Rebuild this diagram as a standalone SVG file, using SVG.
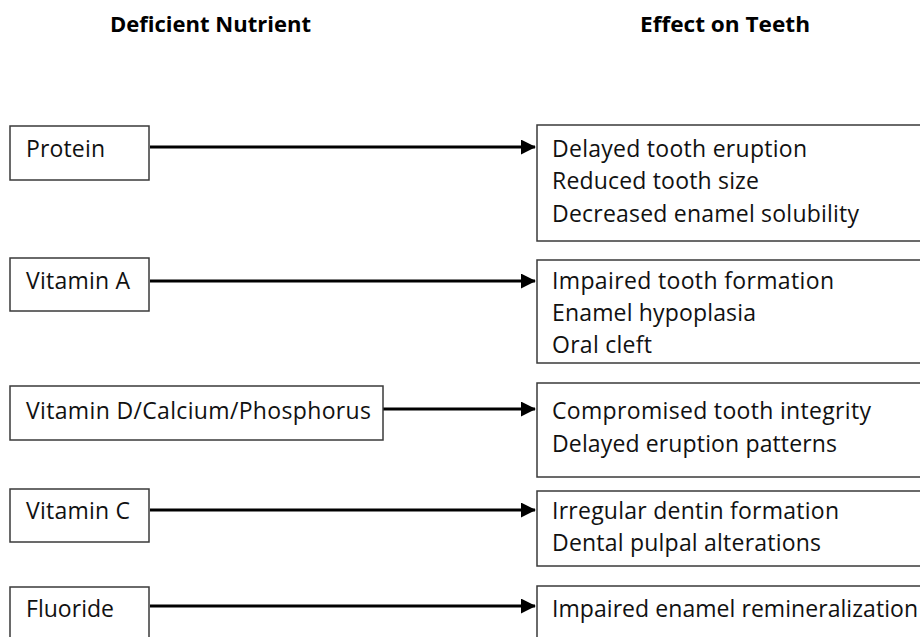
<svg xmlns="http://www.w3.org/2000/svg" width="920" height="637" viewBox="0 0 920 637">
<defs>
<style>
.bg{fill:#ffffff}
.box{fill:#ffffff;stroke:#3a3a3a;stroke-width:1.5}
.t{font-family:"Open Sans","Liberation Sans",sans-serif;font-size:23px;fill:#111111}
.h{font-family:"Open Sans","Liberation Sans",sans-serif;font-size:22px;font-weight:bold;fill:#000000}
.arr{stroke:#000000;stroke-width:3;fill:none;marker-end:url(#ah)}
</style>
<marker id="ah" markerWidth="5" markerHeight="5" refX="4.7" refY="2.5" orient="auto" markerUnits="strokeWidth">
<path d="M0,0 L5,2.5 L0,5 z" fill="#000000"/>
</marker>
</defs>
<rect class="bg" x="0" y="0" width="920" height="637"/>
<g id="headers">
<text class="h" x="110" y="32" textLength="201" lengthAdjust="spacingAndGlyphs">Deficient Nutrient</text>
<text class="h" x="640" y="32" textLength="170" lengthAdjust="spacingAndGlyphs">Effect on Teeth</text>
</g>
<g id="connectors">
<line class="arr" x1="150" y1="147" x2="535" y2="147"/>
<line class="arr" x1="150" y1="281" x2="535" y2="281"/>
<line class="arr" x1="383" y1="409" x2="535" y2="409"/>
<line class="arr" x1="150" y1="510" x2="535" y2="510"/>
<line class="arr" x1="150" y1="606" x2="535" y2="606"/>
</g>
<g id="n-protein">
<rect class="box" x="10" y="126" width="139" height="54"/>
<text class="t" x="26" y="157" textLength="79">Protein</text>
</g>
<g id="n-vita">
<rect class="box" x="10" y="258" width="139" height="53"/>
<text class="t" x="26" y="289" textLength="104">Vitamin A</text>
</g>
<g id="n-vitd">
<rect class="box" x="10" y="386" width="373" height="54"/>
<text class="t" x="26" y="419" textLength="345">Vitamin D/Calcium/Phosphorus</text>
</g>
<g id="n-vitc">
<rect class="box" x="10" y="489" width="139" height="53"/>
<text class="t" x="26" y="519" textLength="104">Vitamin C</text>
</g>
<g id="n-fluoride">
<rect class="box" x="10" y="587" width="139" height="60"/>
<text class="t" x="26" y="617" textLength="88">Fluoride</text>
</g>
<g id="e-protein">
<rect class="box" x="537" y="125" width="400" height="116"/>
<text class="t" x="552" y="157" textLength="255">Delayed tooth eruption</text>
<text class="t" x="552" y="189" textLength="207">Reduced tooth size</text>
<text class="t" x="552" y="222" textLength="307">Decreased enamel solubility</text>
</g>
<g id="e-vita">
<rect class="box" x="537" y="260" width="400" height="103"/>
<text class="t" x="552" y="289" textLength="282">Impaired tooth formation</text>
<text class="t" x="552" y="321" textLength="204">Enamel hypoplasia</text>
<text class="t" x="552" y="353" textLength="100">Oral cleft</text>
</g>
<g id="e-vitd">
<rect class="box" x="537" y="383" width="400" height="94"/>
<text class="t" x="552" y="419" textLength="319">Compromised tooth integrity</text>
<text class="t" x="552" y="452" textLength="285">Delayed eruption patterns</text>
</g>
<g id="e-vitc">
<rect class="box" x="537" y="491" width="400" height="75"/>
<text class="t" x="552" y="519" textLength="287">Irregular dentin formation</text>
<text class="t" x="552" y="551" textLength="269">Dental pulpal alterations</text>
</g>
<g id="e-fluoride">
<rect class="box" x="537" y="586" width="400" height="64"/>
<text class="t" x="552" y="617" textLength="366">Impaired enamel remineralization</text>
</g>
</svg>
